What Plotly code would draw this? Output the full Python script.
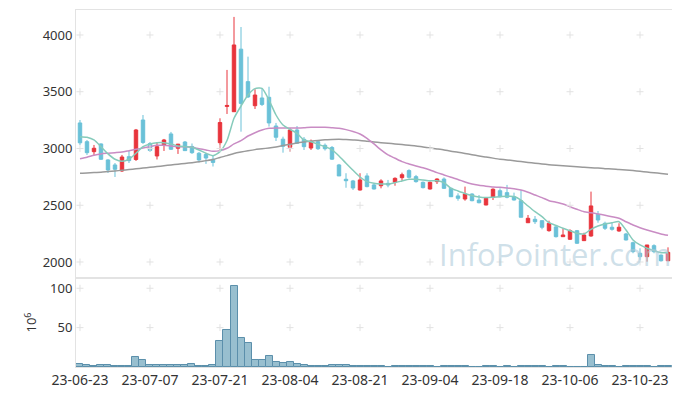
import plotly.graph_objects as go
from plotly.subplots import make_subplots

md = ["06-23","06-26","06-27","06-28","06-29","06-30","07-03","07-04","07-05","07-06",
      "07-07","07-10","07-11","07-12","07-13","07-14","07-17","07-18","07-19","07-20",
      "07-21","07-24","07-25","07-26","07-27","07-28","07-31","08-01","08-02","08-03",
      "08-04","08-07","08-08","08-09","08-10","08-11","08-14","08-16","08-17","08-18",
      "08-21","08-22","08-23","08-24","08-25","08-28","08-29","08-30","08-31","09-01",
      "09-04","09-05","09-06","09-07","09-08","09-11","09-12","09-13","09-14","09-15",
      "09-18","09-19","09-20","09-21","09-22","09-25","09-26","09-27","10-04","10-05",
      "10-06","10-10","10-11","10-12","10-13","10-16","10-17","10-18","10-19","10-20",
      "10-23","10-24","10-25","10-26","10-27"]
dates = ["23-" + d for d in md]

open_ = [3225,3060,2972,3040,2899,2855,2802,2928,2903,3251,
         3044,2934,3027,3128,3002,3057,3018,2958,2947,2905,
         3051,3370,3324,3875,3589,3377,3445,3451,3198,3082,
         3011,3163,3081,3004,3060,3028,3009,2855,2729,2714,
         2634,2758,2679,2672,2693,2702,2743,2805,2752,2702,
         2643,2708,2731,2649,2582,2555,2599,2546,2502,2570,
         2628,2611,2575,2540,2346,2376,2364,2276,2309,2223,
         2200,2276,2188,2229,2420,2341,2306,2273,2247,2170,
         2077,2047,2144,2061,2011]
high = [3251,3075,3031,3045,2905,2872,2943,2978,3172,3295,
        3057,3057,3084,3146,3040,3066,3044,2969,2960,2938,
        3266,3692,4159,4070,3809,3522,3533,3544,3225,3104,
        3181,3198,3101,3079,3075,3044,3022,2864,2782,2723,
        2782,2782,2687,2729,2723,2746,2787,2817,2767,2709,
        2709,2737,2745,2656,2605,2664,2605,2590,2564,2649,
        2649,2679,2611,2634,2414,2405,2366,2364,2317,2297,
        2288,2282,2258,2620,2449,2355,2346,2341,2256,2179,
        2121,2150,2156,2066,2129]
low = [3031,2943,2943,2900,2784,2749,2793,2872,2890,3040,
       2969,2903,2978,2987,2952,2978,2952,2877,2864,2841,
       2978,3304,3322,3148,3445,3348,3374,3193,3066,2963,
       2972,3040,2987,2987,2987,2982,2899,2758,2654,2634,
       2630,2658,2639,2649,2658,2672,2716,2737,2699,2648,
       2639,2687,2643,2573,2540,2540,2535,2517,2500,2546,
       2570,2561,2542,2394,2344,2335,2288,2267,2216,2223,
       2194,2159,2188,2223,2346,2282,2276,2267,2190,2077,
       2018,2003,2077,2004,2011]
close = [3050,2963,3002,2905,2811,2817,2925,2893,3163,3053,
         2982,3016,3075,2993,3038,2981,2963,2899,2916,2877,
         3229,3379,3912,3397,3454,3471,3388,3225,3099,3019,
         3163,3046,3016,3064,2998,2998,2906,2758,2716,2652,
         2723,2664,2643,2714,2678,2737,2769,2746,2708,2655,
         2702,2731,2649,2575,2561,2599,2540,2522,2561,2641,
         2575,2570,2546,2394,2385,2355,2306,2341,2223,2238,
         2276,2165,2238,2494,2370,2297,2288,2306,2194,2091,
         2047,2150,2091,2011,2085]

ma5 = [3104,3099,3075,3016,2952,2905,2887,2905,2958,3016,
       3040,3051,3051,3040,3022,3016,3011,2987,2958,2937,
       2972,3070,3266,3374,3471,3527,3530,3427,3295,3207,
       3169,3134,3075,3060,3037,3016,2987,2934,2870,2808,
       2749,2708,2693,2687,2687,2699,2714,2729,2729,2723,
       2716,2716,2699,2649,2626,2604,2586,2573,2568,2571,
       2575,2579,2577,2546,2493,2443,2399,2346,2322,2297,
       2276,2253,2247,2288,2317,2335,2346,2355,2282,2194,
       2150,2121,2100,2082,2082]
ma20 = [2910,2923,2940,2952,2958,2963,2969,2981,2993,3004,
        3016,3028,3028,3022,3016,3016,3011,2998,2987,2975,
        2981,3002,3040,3069,3110,3139,3163,3178,3181,3181,
        3181,3181,3183,3187,3187,3187,3183,3178,3166,3150,
        3128,3090,3040,2987,2943,2914,2884,2864,2846,2831,
        2811,2787,2767,2746,2727,2705,2687,2676,2668,2661,
        2658,2652,2645,2634,2614,2590,2567,2540,2526,2511,
        2487,2464,2443,2434,2423,2412,2399,2385,2355,2326,
        2302,2282,2264,2247,2235]
ma60 = [2782,2784,2788,2791,2797,2802,2808,2814,2821,2828,
        2834,2841,2848,2855,2861,2868,2875,2884,2893,2903,
        2921,2937,2956,2969,2980,2990,2997,3005,3013,3027,
        3037,3049,3057,3064,3071,3077,3080,3082,3079,3075,
        3071,3064,3057,3051,3046,3040,3034,3028,3022,3013,
        3005,2996,2987,2976,2967,2956,2945,2934,2925,2915,
        2906,2899,2892,2885,2877,2870,2864,2857,2852,2848,
        2843,2839,2834,2831,2827,2822,2819,2814,2810,2805,
        2799,2793,2786,2780,2773]

volume = [3.8,2.5,1.3,2.5,2.5,1.3,1.3,1.3,12.7,9.2,
          2.5,2.5,2.5,2.5,2.5,2.5,3.8,1.3,1.3,2.5,
          33.3,47.2,102.9,36.7,30.4,9.2,9.2,14.3,6.7,5.1,
          6.7,3.8,2.5,1.3,1.3,1.3,2.5,2.5,2.5,1.2,
          1.2,1.2,1.2,1.2,0.3,1.2,1.2,1.2,1.2,1.2,
          1.2,0.3,1.2,1.2,1.2,1.2,0.3,0.3,1.2,1.2,
          0.3,1.2,0.3,1.2,1.2,1.2,1.2,0.3,1.2,1.2,
          0.3,0.3,0.3,15.6,2.8,1.2,1.2,0.3,1.2,1.2,
          1.2,1.2,0.3,1.2,1.2]

price_ticks = [2000, 2500, 3000, 3500, 4000]
vol_ticks = [50, 100]
x_tick_idx = list(range(0, 85, 10))
x_ticks = [dates[i] for i in x_tick_idx]

RED = "#e8343c"
BLUE = "#6ac1d8"
FONT = "Noto Sans"
TICKC = "#333333"
GRIDC = "#e2e2e2"

fig = make_subplots(rows=2, cols=1, shared_xaxes=True, vertical_spacing=0,
                    row_heights=[0.7507, 0.2493])

fig.add_trace(go.Candlestick(x=dates, open=open_, high=high, low=low, close=close,
                             increasing=dict(line=dict(color=RED, width=1), fillcolor=RED),
                             decreasing=dict(line=dict(color=BLUE, width=1), fillcolor=BLUE),
                             whiskerwidth=0, showlegend=False), row=1, col=1)

for vals, col in [(ma60, "#9a9a9a"), (ma20, "#c98cc4"), (ma5, "#86cbbb")]:
    fig.add_trace(go.Scatter(x=dates, y=vals, mode="lines", showlegend=False, hoverinfo="skip",
                             line=dict(color=col, width=1.5, shape="spline", smoothing=0.6)),
                  row=1, col=1)

fig.add_trace(go.Bar(x=dates, y=volume, showlegend=False,
                     marker=dict(color="#98bfcf", line=dict(color="#5b8fab", width=1))),
              row=2, col=1)

# grid "+" marks at tick intersections
gx = [x for x in x_ticks for _ in price_ticks]
gy = [y for _ in x_ticks for y in price_ticks]
fig.add_trace(go.Scatter(x=gx, y=gy, mode="markers", hoverinfo="skip", showlegend=False,
                         marker=dict(symbol="cross-thin", size=5, line=dict(color=GRIDC, width=1))),
              row=1, col=1)
vx = [x for x in x_ticks for _ in vol_ticks]
vy = [y for _ in x_ticks for y in vol_ticks]
fig.add_trace(go.Scatter(x=vx, y=vy, mode="markers", hoverinfo="skip", showlegend=False,
                         marker=dict(symbol="cross-thin", size=5, line=dict(color=GRIDC, width=1))),
              row=2, col=1)

fig.update_layout(
    width=672, height=388,
    margin=dict(l=68, r=8, t=2, b=29, autoexpand=False),
    paper_bgcolor="white", plot_bgcolor="white",
    font=dict(family=FONT, size=13, color=TICKC),
    bargap=0, boxgap=0.3,
    showlegend=False,
)
fig.update_xaxes(type="category", categoryorder="array", categoryarray=dates,
                 range=[-0.57, 84.57], showgrid=False, zeroline=False,
                 showline=True, linecolor="#e3e3e3", linewidth=1, mirror=True,
                 tickmode="array", tickvals=x_ticks, ticktext=x_ticks, ticks="", tickangle=0,
                 rangeslider=dict(visible=False))
fig.update_xaxes(showticklabels=False, row=1, col=1)
fig.update_xaxes(showticklabels=True, tickfont=dict(size=14, color=TICKC), row=2, col=1)

fig.update_yaxes(range=[1859, 4220], tickvals=price_ticks, showgrid=False, zeroline=False,
                 showline=True, linecolor="#e3e3e3", linewidth=1, mirror=True, ticks="",
                 tickfont=dict(size=13, color=TICKC), domain=[0.2493, 1], row=1, col=1)
fig.update_yaxes(range=[0, 113], tickvals=vol_ticks, showgrid=False, zeroline=False,
                 showline=True, linecolor="#e3e3e3", linewidth=1, mirror=True, ticks="",
                 tickfont=dict(size=13, color=TICKC), domain=[0, 0.2493],
                 title=dict(text="10<sup>6</sup>", font=dict(size=13, color=TICKC), standoff=10),
                 row=2, col=1)

fig.add_annotation(text="InfoPointer.com", xref="paper", yref="paper", x=0.804, y=0.317,
                   xanchor="center", yanchor="middle", showarrow=False,
                   font=dict(family="Open Sans", size=31, color="rgba(175,203,218,0.6)"))

fig.write_html("out.html")
